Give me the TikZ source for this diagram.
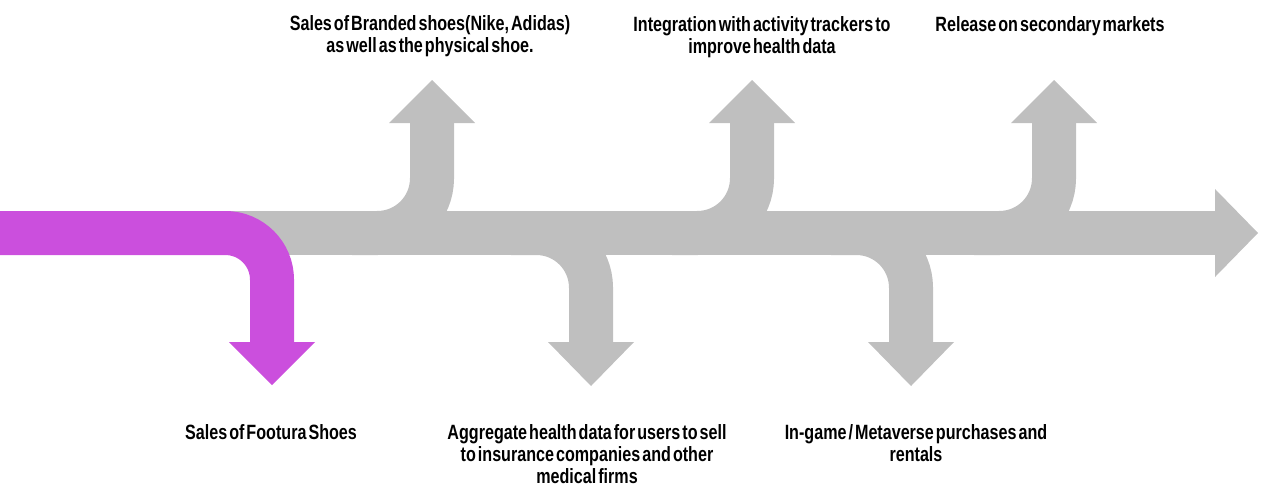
\documentclass[tikz,border=0pt]{standalone}
\usepackage{fontspec}
\setmainfont{Liberation Sans}[FakeStretch=0.78,WordSpace=0.45]
\definecolor{band}{RGB}{191,191,191}
\definecolor{lilac}{RGB}{203,79,221}

\begin{document}
\begin{tikzpicture}[x=0.75pt,y=-0.75pt,
  shaft/.style={line width=33pt,rounded corners=41pt},
  lbl/.style={font=\bfseries\fontsize{15.5}{16.5}\selectfont,align=center,inner sep=0pt}]
\useasboundingbox (0,0) rectangle (1280,496);
% main line
\fill[band] (200,211) rectangle (1216,255);
\fill[band] (1215,189) -- (1258,233) -- (1215,277) -- cycle;
% branches going up
\foreach \x in {432,752,1054}{
  \draw[band,shaft] (\x-80,233) -- (\x,233) -- (\x,122);
  \fill[band] (\x-43,123) -- (\x,80) -- (\x+43,123) -- cycle;
}
% branches going down
\foreach \x in {591,911}{
  \draw[band,shaft] (\x-80,233) -- (\x,233) -- (\x,343);
  \fill[band] (\x-43,342) -- (\x,386) -- (\x+43,342) -- cycle;
}
% purple start
\draw[lilac,line width=33pt,rounded corners=35pt] (0,233) -- (272,233) -- (272,343);
\fill[lilac] (229,342) -- (272,385) -- (315,342) -- cycle;

\node[lbl] (brand) at (430,36) {Sales of Branded shoes(Nike, Adidas)\\as well as the physical shoe.};
\node[lbl] (track) at (762,37) {Integration with activity trackers to\\improve health data};
\node[lbl] (resale) at (1050,26) {Release on secondary markets};
\node[lbl] (footura) at (271,432) {Sales of Footura Shoes};
\node[lbl] (health) at (587,454) {Aggregate health data for users to sell\\to insurance companies and other\\medical firms};
\node[lbl] (meta) at (916,443) {In-game / Metaverse purchases and\\rentals};
\end{tikzpicture}
\end{document}
